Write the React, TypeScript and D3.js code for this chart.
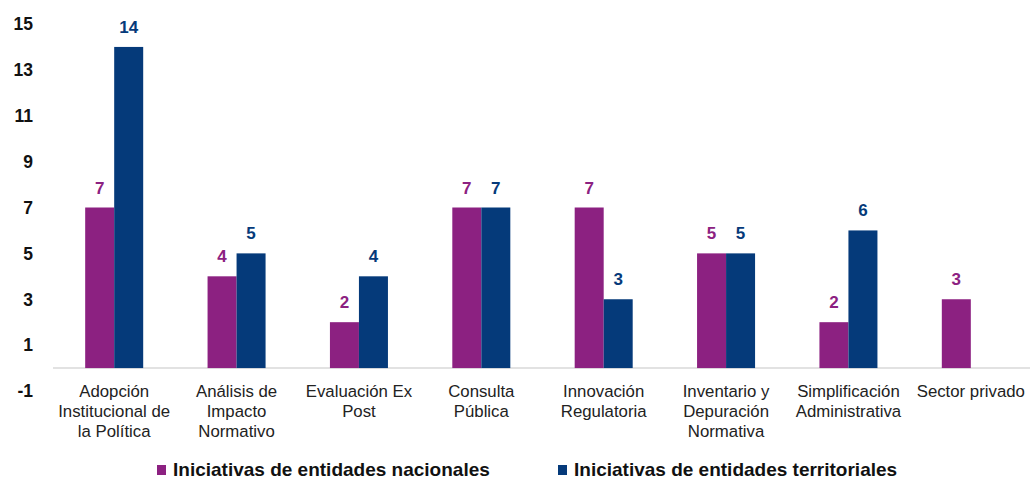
import React from "react";
import * as d3 from "d3";

const categories: string[] = [
  "Adopción\nInstitucional de\nla Política",
  "Análisis de\nImpacto\nNormativo",
  "Evaluación Ex\nPost",
  "Consulta\nPública",
  "Innovación\nRegulatoria",
  "Inventario y\nDepuración\nNormativa",
  "Simplificación\nAdministrativa",
  "Sector privado",
];
const nacionales: (number | null)[] = [7, 4, 2, 7, 7, 5, 2, 3];
const territoriales: (number | null)[] = [14, 5, 4, 7, 3, 5, 6, null];
const seriesNames: string[] = [
  "Iniciativas de entidades nacionales",
  "Iniciativas de entidades territoriales",
];
const yTicks: number[] = [15, 13, 11, 9, 7, 5, 3, 1, -1];

const COLORS = ["#8C2181", "#053A7A"];
const FONT = "'Liberation Sans', Arial, Helvetica, sans-serif";

export default function App() {
  const W = 1030;
  const H = 481;
  const x0 = d3
    .scaleBand<number>()
    .domain(categories.map((_, i) => i))
    .range([53, 1032])
    .paddingInner(0.526)
    .paddingOuter(0.263);
  const x1 = d3
    .scaleBand<number>()
    .domain([0, 1])
    .range([0, x0.bandwidth()])
    .padding(0);
  const y = d3.scaleLinear().domain([-1, 15]).range([391, 24]);
  const series = [nacionales, territoriales];

  return (
    <svg
      width={W}
      height={H}
      style={{ position: "absolute", left: 0, top: 0, background: "#fff" }}
      fontFamily={FONT}
    >
      {yTicks.map((t) => (
        <text
          key={t}
          x={33}
          y={y(t)}
          dy="0.36em"
          textAnchor="end"
          fontSize={17.5}
          fontWeight="bold"
          fill="#111"
        >
          {t}
        </text>
      ))}
      <line x1={53} x2={1030} y1={y(0)} y2={y(0)} stroke="#d9d9d9" strokeWidth={1.5} />
      {categories.map((c, i) => (
        <g key={i}>
          {series.map((s, k) => {
            const v = s[i];
            if (v == null) return null;
            const bx = (x0(i) as number) + (x1(k) as number);
            const bw = x1.bandwidth();
            return (
              <g key={k}>
                <rect x={bx} y={y(v)} width={bw} height={y(0) - y(v)} fill={COLORS[k]} />
                <text
                  x={bx + bw / 2}
                  y={y(v) - 14}
                  textAnchor="middle"
                  fontSize={17}
                  fontWeight="bold"
                  fill={COLORS[k]}
                >
                  {v}
                </text>
              </g>
            );
          })}
          <text
            x={(x0(i) as number) + x0.bandwidth() / 2}
            y={397}
            textAnchor="middle"
            fontSize={16.8}
            fill="#222"
          >
            {c.split("\n").map((line, j) => (
              <tspan key={j} x={(x0(i) as number) + x0.bandwidth() / 2} dy={j === 0 ? 0 : 20}>
                {line}
              </tspan>
            ))}
          </text>
        </g>
      ))}
      {seriesNames.map((n, k) => {
        const lx = k === 0 ? 157 : 558;
        return (
          <g key={n}>
            <rect x={lx} y={465} width={9} height={10} fill={COLORS[k]} />
            <text x={lx + 16} y={476} fontSize={19} fontWeight="bold" fill="#111">
              {n}
            </text>
          </g>
        );
      })}
    </svg>
  );
}
